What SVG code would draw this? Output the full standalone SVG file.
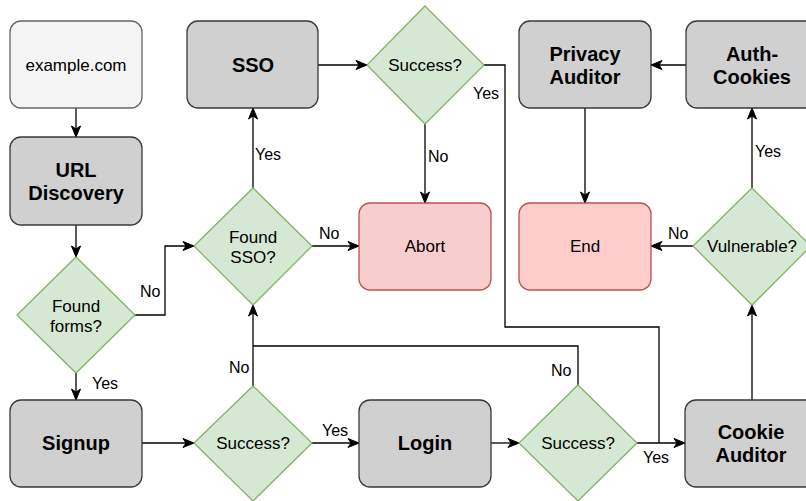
<svg xmlns="http://www.w3.org/2000/svg" width="806" height="501" viewBox="0 0 806 501">
  <defs>
    <marker id="arrow" markerUnits="userSpaceOnUse" markerWidth="13" markerHeight="12" viewBox="0 0 13 12" refX="12" refY="6" orient="auto">
      <path d="M1,1.5 L12,6 L1,10.5 L4,6 Z" fill="#000" stroke="#000" stroke-width="1" stroke-linejoin="miter"/>
    </marker>
    <style>
      .box { fill: #d0d0d0; stroke: #36393d; stroke-width: 1.3; }
      .start { fill: #f5f5f5; stroke: #666666; stroke-width: 1.3; }
      .stop { fill: #f8cecc; stroke: #b85450; stroke-width: 1.3; }
      .stop.end { fill: #ffcccc; }
      .dec { fill: #d5e8d4; stroke: #82b366; stroke-width: 1.3; }
      .title { font-family: "Liberation Sans", Arial, sans-serif; font-size: 20px; font-weight: bold; text-anchor: middle; fill: #000; }
      .body { font-family: "Liberation Sans", Arial, sans-serif; font-size: 17px; text-anchor: middle; fill: #000; }
      .lbl { font-family: "Liberation Sans", Arial, sans-serif; font-size: 16px; fill: #000; }
      .edge { fill: none; stroke: #000; stroke-width: 1.3; }
      .edge.arr { marker-end: url(#arrow); }
    </style>
  </defs>
  <rect width="806" height="501" fill="#fff"/>

  <!-- connectors -->
  <g id="connectors">
    <path class="edge arr" d="M76,108 V137"/>
    <path class="edge arr" d="M76,225 V257"/>
    <path class="edge arr" d="M76,373 V400"/>
    <path class="edge arr" d="M134,315 H165 V246 H194"/>
    <path class="edge arr" d="M253,188 V108"/>
    <path class="edge arr" d="M312,246 H359"/>
    <path class="edge arr" d="M318,65 H367"/>
    <path class="edge arr" d="M425,124 V203"/>
    <path class="edge" d="M484,65 H505 V327 H659 V443"/>
    <path class="edge arr" d="M142,443 H194"/>
    <path class="edge arr" d="M253,386 V305"/>
    <path class="edge arr" d="M312,443 H359"/>
    <path class="edge arr" d="M491,443 H519"/>
    <path class="edge" d="M578,385 V346 H253"/>
    <path class="edge arr" d="M637,443 H685"/>
    <path class="edge arr" d="M752,400 V305"/>
    <path class="edge arr" d="M752,188 V108"/>
    <path class="edge arr" d="M693,246 H651"/>
    <path class="edge arr" d="M686,65 H651"/>
    <path class="edge arr" d="M585,108 V203"/>
  </g>

  <!-- connector labels -->
  <g id="labels">
    <text class="lbl" x="140" y="297">No</text>
    <text class="lbl" x="92" y="389">Yes</text>
    <text class="lbl" x="229" y="373">No</text>
    <text class="lbl" x="255" y="160">Yes</text>
    <text class="lbl" x="319" y="239">No</text>
    <text class="lbl" x="428" y="162">No</text>
    <text class="lbl" x="473" y="99">Yes</text>
    <text class="lbl" x="322" y="436">Yes</text>
    <text class="lbl" x="551" y="376">No</text>
    <text class="lbl" x="643" y="463">Yes</text>
    <text class="lbl" x="755" y="157">Yes</text>
    <text class="lbl" x="668" y="239">No</text>
  </g>

  <g id="example">
    <rect class="start" x="10" y="21" width="132" height="87" rx="11"/>
    <text class="body" x="76" y="71" fill="#333">example.com</text>
  </g>
  <g id="url-discovery">
    <rect class="box" x="10" y="137" width="132" height="88" rx="11"/>
    <text class="title" x="76" y="177">URL</text>
    <text class="title" x="76" y="200">Discovery</text>
  </g>
  <g id="found-forms">
    <polygon class="dec" points="76,257 135,315 76,373 17,315"/>
    <text class="body" x="76" y="312">Found</text>
    <text class="body" x="76" y="332">forms?</text>
  </g>
  <g id="signup">
    <rect class="box" x="10" y="400" width="132" height="87" rx="11"/>
    <text class="title" x="76" y="450">Signup</text>
  </g>
  <g id="found-sso">
    <polygon class="dec" points="253,188 312,246 253,305 194,246"/>
    <text class="body" x="253" y="243">Found</text>
    <text class="body" x="253" y="263">SSO?</text>
  </g>
  <g id="sso">
    <rect class="box" x="187" y="21" width="131" height="87" rx="11"/>
    <text class="title" x="253" y="72">SSO</text>
  </g>
  <g id="sso-success">
    <polygon class="dec" points="425,6 484,65 425,124 367,65"/>
    <text class="body" x="425" y="71">Success?</text>
  </g>
  <g id="abort">
    <rect class="stop" x="359" y="203" width="132" height="87" rx="11"/>
    <text class="body" x="425" y="252">Abort</text>
  </g>
  <g id="signup-success">
    <polygon class="dec" points="253,386 312,443 253,501 194,443"/>
    <text class="body" x="253" y="449">Success?</text>
  </g>
  <g id="login">
    <rect class="box" x="359" y="400" width="132" height="87" rx="11"/>
    <text class="title" x="425" y="450">Login</text>
  </g>
  <g id="login-success">
    <polygon class="dec" points="578,385 637,443 578,501 519,443"/>
    <text class="body" x="578" y="449">Success?</text>
  </g>
  <g id="cookie-auditor">
    <rect class="box" x="685" y="400" width="134" height="87" rx="11"/>
    <text class="title" x="751" y="439">Cookie</text>
    <text class="title" x="751" y="462">Auditor</text>
  </g>
  <g id="vulnerable">
    <polygon class="dec" points="752,188 811,246 752,305 693,246"/>
    <text class="body" x="752" y="252">Vulnerable?</text>
  </g>
  <g id="end">
    <rect class="stop end" x="519" y="203" width="132" height="87" rx="11"/>
    <text class="body" x="585" y="252">End</text>
  </g>
  <g id="auth-cookies">
    <rect class="box" x="686" y="21" width="134" height="87" rx="11"/>
    <text class="title" x="752" y="61">Auth-</text>
    <text class="title" x="752" y="84">Cookies</text>
  </g>
  <g id="privacy-auditor">
    <rect class="box" x="519" y="21" width="132" height="87" rx="11"/>
    <text class="title" x="585" y="61">Privacy</text>
    <text class="title" x="585" y="84">Auditor</text>
  </g>
</svg>
